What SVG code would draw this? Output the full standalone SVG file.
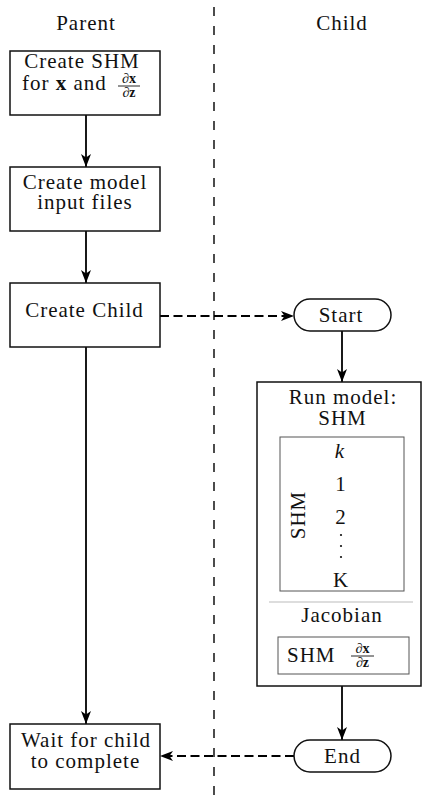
<svg xmlns="http://www.w3.org/2000/svg" width="422" height="803" viewBox="0 0 422 803" font-family="'Liberation Serif', serif" font-size="21" text-anchor="middle" letter-spacing="1">
<style>
.fr{font-size:14px;letter-spacing:0}
.box{fill:#fff;stroke:#111;stroke-width:1.5}
.inner{fill:none;stroke:#555;stroke-width:1}
.conn{fill:none;stroke:#000;stroke-width:1.8}
.dash{stroke-dasharray:9 4.5}
.lane{fill:none;stroke:#000;stroke-width:1.4;stroke-dasharray:9 10}
.t{fill:#111}
</style>
<defs>
<marker id="ah" markerWidth="14" markerHeight="12" refX="13" refY="6" orient="auto" markerUnits="userSpaceOnUse">
<path d="M0,1 L13,6 L0,11 L3.5,6 Z" fill="#000"/>
</marker>
</defs>

<g id="lanes">
<line class="lane" x1="214" y1="7" x2="214" y2="803"/>
<text class="t" x="86" y="30">Parent</text>
<text class="t" x="342" y="30">Child</text>
</g>

<g id="connectors">
<line class="conn" x1="86" y1="115" x2="86" y2="167" marker-end="url(#ah)"/>
<line class="conn" x1="86" y1="231" x2="86" y2="283" marker-end="url(#ah)"/>
<line class="conn" x1="86" y1="347" x2="86" y2="724" marker-end="url(#ah)"/>
<line class="conn dash" x1="160" y1="316" x2="294" y2="316" marker-end="url(#ah)"/>
<line class="conn" x1="342" y1="331" x2="342" y2="382" marker-end="url(#ah)"/>
<line class="conn" x1="342" y1="686" x2="342" y2="740" marker-end="url(#ah)"/>
<line class="conn dash" x1="294" y1="756" x2="160" y2="756" marker-end="url(#ah)"/>
</g>

<g id="create-shm">
<rect class="box" x="10" y="51" width="150" height="64"/>
<text class="t" x="82" y="68">Create SHM</text>
<text class="t" x="22" y="90" text-anchor="start">for <tspan font-weight="bold">x</tspan> and</text>
<text class="t fr" x="129" y="83">∂<tspan font-weight="bold">x</tspan></text>
<line x1="118" y1="86" x2="140" y2="86" stroke="#111" stroke-width="0.9"/>
<text class="t fr" x="129" y="97">∂<tspan font-weight="bold">z</tspan></text>
</g>

<g id="create-input">
<rect class="box" x="10" y="167" width="150" height="64"/>
<text class="t" x="85" y="189">Create model</text>
<text class="t" x="85" y="209">input files</text>
</g>

<g id="create-child">
<rect class="box" x="10" y="283" width="150" height="64"/>
<text class="t" x="84.5" y="317">Create Child</text>
</g>

<g id="wait">
<rect class="box" x="10" y="724" width="150" height="65"/>
<text class="t" x="86" y="747">Wait for child</text>
<text class="t" x="85.5" y="768">to complete</text>
</g>

<g id="start">
<rect class="box" x="294" y="299" width="97" height="32" rx="16"/>
<text class="t" x="341" y="322">Start</text>
</g>

<g id="end">
<rect class="box" x="294" y="740" width="97" height="32" rx="16"/>
<text class="t" x="342.5" y="763">End</text>
</g>

<g id="run-model">
<rect class="box" x="257" y="382" width="164" height="304"/>
<text class="t" x="343" y="404">Run model:</text>
<text class="t" x="342.5" y="425">SHM</text>
<rect class="inner" x="280" y="437" width="124" height="154"/>
<text class="t" x="340" y="458" font-style="italic">k</text>
<text class="t" x="341" y="491">1</text>
<text class="t" x="341" y="524">2</text>
<circle cx="341" cy="535" r="1.1" fill="#111"/>
<circle cx="341" cy="546" r="1.1" fill="#111"/>
<circle cx="341" cy="557" r="1.1" fill="#111"/>
<text class="t" x="341" y="587">K</text>
<text class="t" transform="translate(305,515) rotate(-90)" x="0" y="0">SHM</text>
<line x1="269" y1="602" x2="413" y2="602" stroke="#bbb" stroke-width="1.2"/>
<text class="t" x="342" y="622">Jacobian</text>
<rect class="inner" x="278" y="637" width="131" height="37" stroke="#333"/>
<text class="t" x="287" y="662" text-anchor="start">SHM</text>
<text class="t fr" x="362.5" y="653">∂<tspan font-weight="bold">x</tspan></text>
<line x1="351" y1="656" x2="374" y2="656" stroke="#111" stroke-width="0.9"/>
<text class="t fr" x="362.5" y="667">∂<tspan font-weight="bold">z</tspan></text>
</g>
</svg>
